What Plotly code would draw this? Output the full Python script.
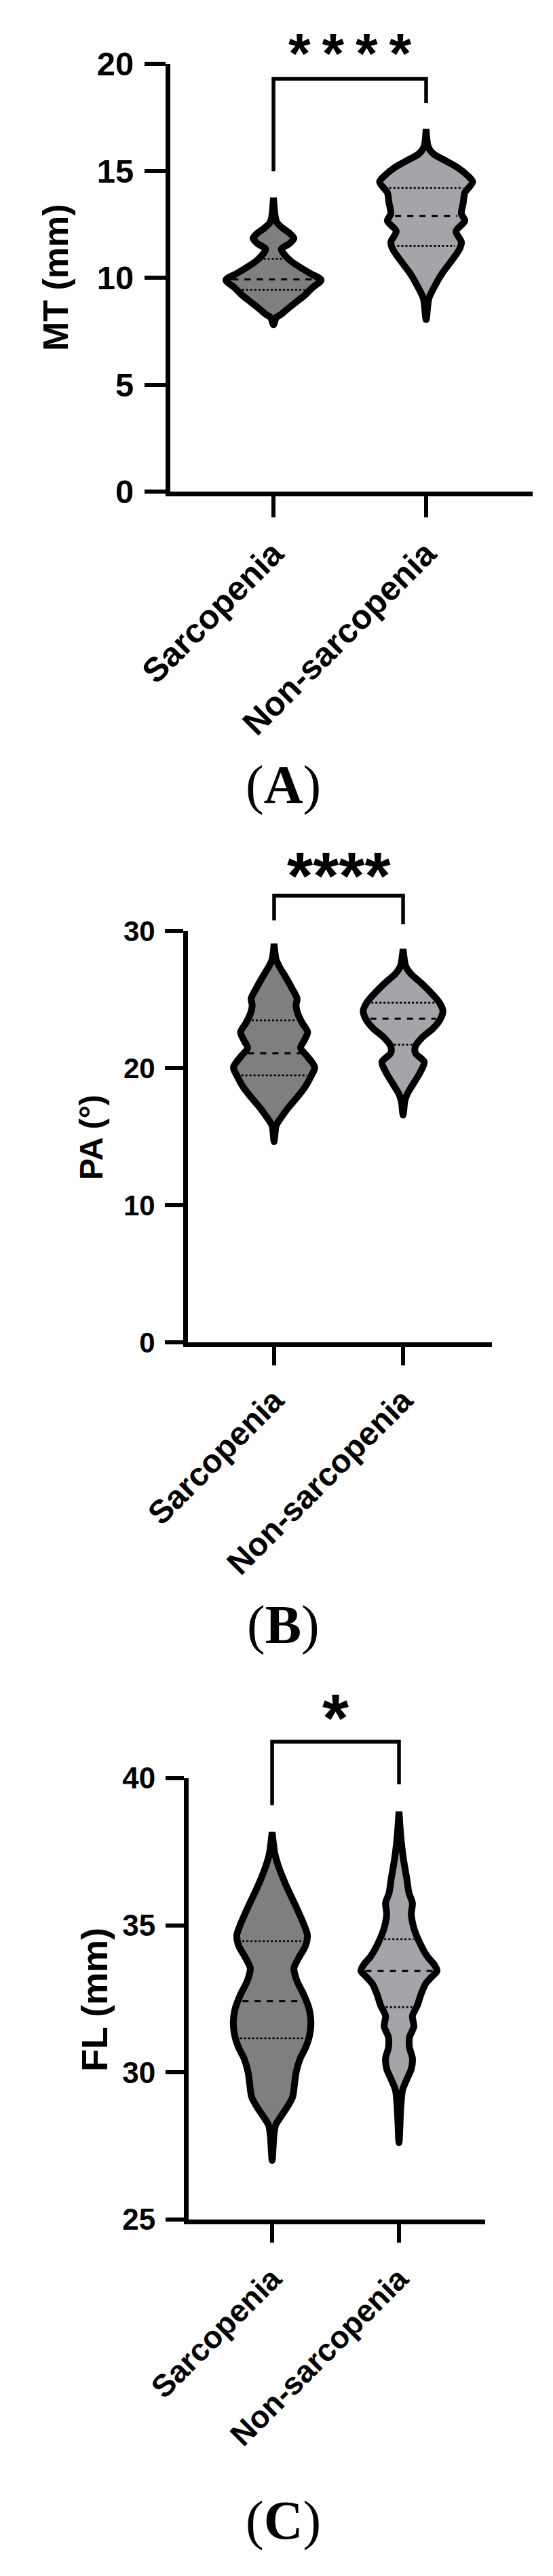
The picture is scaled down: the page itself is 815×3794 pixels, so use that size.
import numpy as np
import plotly.graph_objects as go

W, H = 815, 3794
categories = ["Sarcopenia", "Non-sarcopenia"]

# ---------------- Panel A : MT (mm) ----------------
mt_sarc_y = [7.80, 8.13, 8.29, 8.54, 8.87, 9.20, 9.53, 9.89, 10.19, 10.44, 10.77, 11.10,
             11.34, 11.59, 11.84, 12.09, 12.33, 12.58, 12.83, 13.74]
mt_sarc_hw = [0, 0.018, 0.051, 0.092, 0.150, 0.208, 0.254, 0.312, 0.243, 0.185, 0.115, 0.069,
              0.051, 0.104, 0.134, 0.104, 0.058, 0.023, 0.012, 0]
mt_sarc_q = [9.43, 9.92, 10.88]          # Q1, median, Q3

mt_non_y = [8.04, 9.03, 9.53, 10.19, 10.85, 11.34, 11.67, 12.17, 12.66, 12.99, 13.49, 13.98,
            14.48, 14.81, 15.14, 15.47, 15.80, 16.13, 16.95]
mt_non_hw = [0, 0.018, 0.051, 0.104, 0.173, 0.219, 0.231, 0.196, 0.254, 0.231, 0.243, 0.254,
             0.305, 0.266, 0.208, 0.127, 0.046, 0.014, 0]
mt_non_q = [11.48, 12.88, 14.20]

# ---------------- Panel B : PA (°) ----------------
pa_sarc_y = [14.64, 15.80, 16.31, 17.09, 17.86, 18.63, 19.41, 20.05, 20.82, 21.47, 21.98, 22.62,
             23.27, 23.91, 24.56, 25.07, 25.84, 26.75, 27.39, 27.90, 29.06]
pa_sarc_hw = [0, 0.016, 0.049, 0.109, 0.178, 0.241, 0.287, 0.315, 0.260, 0.205, 0.232, 0.260,
              0.219, 0.186, 0.170, 0.178, 0.137, 0.082, 0.041, 0.016, 0]
pa_sarc_q = [19.46, 21.08, 23.47]

pa_non_y = [16.57, 17.60, 18.12, 18.89, 19.66, 20.44, 21.08, 21.59, 22.24, 22.88, 23.53, 24.17,
            24.81, 25.46, 26.23, 26.87, 27.39, 28.68]
pa_non_hw = [0, 0.014, 0.033, 0.082, 0.131, 0.164, 0.096, 0.096, 0.150, 0.232, 0.287, 0.309,
             0.279, 0.219, 0.137, 0.060, 0.022, 0]
pa_non_q = [21.70, 23.60, 24.76]

# ---------------- Panel C : FL (mm) ----------------
fl_sarc_y = [27.01, 27.85, 28.21, 28.45, 28.81, 29.16, 29.58, 30.00, 30.48, 30.84, 31.20, 31.68,
             32.16, 32.64, 33.12, 33.54, 33.95, 34.31, 34.67, 35.03, 35.63, 36.35, 37.01, 37.43, 38.17]
fl_sarc_hw = [0, 0.014, 0.028, 0.061, 0.117, 0.161, 0.176, 0.189, 0.222, 0.264, 0.292, 0.306,
              0.292, 0.250, 0.195, 0.172, 0.217, 0.264, 0.278, 0.250, 0.189, 0.111, 0.050, 0.022, 0]
fl_sarc_q = [31.16, 32.42, 34.46]

fl_non_y = [27.61, 28.81, 29.40, 29.76, 30.12, 30.48, 30.84, 31.20, 31.56, 31.92, 32.28, 32.64,
            33.00, 33.24, 33.45, 33.66, 33.95, 34.43, 34.91, 35.39, 35.75, 36.11, 36.59, 37.31,
            38.03, 38.87]
fl_non_hw = [0, 0.014, 0.028, 0.061, 0.097, 0.106, 0.083, 0.083, 0.117, 0.106, 0.145, 0.172,
             0.208, 0.256, 0.300, 0.278, 0.222, 0.161, 0.117, 0.097, 0.106, 0.078, 0.061, 0.033,
             0.014, 0]
fl_non_q = [32.22, 33.45, 34.53]

y_titles = ["MT (mm)", "PA (°)", "FL (mm)"]
panel_labels = ["A", "B", "C"]
y_ticks = [[0, 5, 10, 15, 20], [0, 10, 20, 30], [25, 30, 35, 40]]
# bracket: (top, left leg end, right leg end) in data units
brackets = [(19.30, 14.98, 18.16), (32.56, 30.77, 30.48), (41.24, 39.08, 39.79)]
star_y = [20.8, 34.59, 42.33]

fill_colors = ["#7F7F7F", "#A5A5A9"]

panels = [
    dict(violins=[(mt_sarc_y, mt_sarc_hw, mt_sarc_q), (mt_non_y, mt_non_hw, mt_non_q)],
         xdom=[243 / W, 777 / W], xr=[-0.676, 1.698],
         ydom=[1 - 716 / H, 1 - 86 / H], yr=[0, 20],
         ytick_size=49, xtick_size=50, ticklen=31, xstand=4, title_size=52, title_x=74, title_y=401,
         star_size=84, star_text="*\u2009*\u2009*\u2009*", label_y=1148),
    dict(violins=[(pa_sarc_y, pa_sarc_hw, pa_sarc_q), (pa_non_y, pa_non_hw, pa_non_q)],
         xdom=[269 / W, 717 / W], xr=[-0.668, 1.689],
         ydom=[1 - 1969 / H, 1 - 1363 / H], yr=[0, 30],
         ytick_size=42, xtick_size=48, ticklen=27, xstand=4, title_size=48, title_x=127, title_y=1667,
         star_size=98, star_text="****", label_y=2385),
    dict(violins=[(fl_sarc_y, fl_sarc_hw, fl_sarc_q), (fl_non_y, fl_non_hw, fl_non_q)],
         xdom=[270 / W, 707 / W], xr=[-0.658, 1.679],
         ydom=[1 - 3261 / H, 1 - 2611 / H], yr=[25, 40],
         ytick_size=44, xtick_size=46, ticklen=27, xstand=8, title_size=54, title_x=131, title_y=2937,
         star_size=100, star_text="*", label_y=3704),
]

SANS = "Liberation Sans, Arial, sans-serif"
SERIF = "Liberation Serif, Times New Roman, serif"

fig = go.Figure()
layout = dict(width=W, height=H, margin=dict(l=0, r=0, t=0, b=0, autoexpand=False),
              paper_bgcolor="white", plot_bgcolor="white", showlegend=False)
shapes, annotations = [], []


def to_px(p, xv):
    return p["xdom"][0] + (xv - p["xr"][0]) / (p["xr"][1] - p["xr"][0]) * (p["xdom"][1] - p["xdom"][0])


def to_py(p, yv):
    return p["ydom"][0] + (yv - p["yr"][0]) / (p["yr"][1] - p["yr"][0]) * (p["ydom"][1] - p["ydom"][0])


for i, p in enumerate(panels):
    n = "" if i == 0 else str(i + 1)
    xa, ya = "x" + n, "y" + n
    for c, (ys, hw, q) in enumerate(p["violins"]):
        xs = [c + h for h in hw] + [c - h for h in hw[::-1]]
        yy = list(ys) + list(ys[::-1])
        fig.add_trace(go.Scatter(x=xs, y=yy, mode="lines", fill="toself",
                                 fillcolor=fill_colors[c],
                                 line=dict(color="black", width=10, shape="spline", smoothing=0.8),
                                 xaxis=xa, yaxis=ya, hoverinfo="skip"))
        for k, qv in enumerate(q):
            hq = max(float(np.interp(qv, ys, hw)) - 0.035, 0.01)
            fig.add_trace(go.Scatter(x=[c - hq, c + hq], y=[qv, qv], mode="lines",
                                     line=dict(color="black", width=3 if k == 1 else 2.6,
                                               dash="dash" if k == 1 else "dot"),
                                     xaxis=xa, yaxis=ya, hoverinfo="skip"))
    layout["xaxis" + n] = dict(domain=p["xdom"], range=p["xr"], anchor=ya, automargin=False,
                               tickvals=[0, 1], ticktext=categories, tickangle=-45,
                               ticks="outside", ticklen=p["ticklen"], tickwidth=6, tickcolor="black",
                               showline=True, linewidth=7, linecolor="black",
                               showgrid=False, zeroline=False, ticklabelstandoff=p["xstand"],
                               tickfont=dict(family=SANS, size=p["xtick_size"], color="black",
                                             weight="bold"))
    layout["yaxis" + n] = dict(domain=p["ydom"], range=p["yr"], anchor=xa, automargin=False,
                               tickvals=y_ticks[i], ticks="outside", ticklen=p["ticklen"],
                               tickwidth=6, tickcolor="black",
                               showline=True, linewidth=7, linecolor="black",
                               showgrid=False, zeroline=False, ticklabelstandoff=6,
                               tickfont=dict(family=SANS, size=p["ytick_size"], color="black",
                                             weight="bold"))
    # significance bracket
    top, lft, rgt = brackets[i]
    x0, x1 = to_px(p, 0), to_px(p, 1)
    shapes.append(dict(type="path", xref="paper", yref="paper",
                       path=f"M {x0},{to_py(p, lft)} L {x0},{to_py(p, top)} "
                            f"L {x1},{to_py(p, top)} L {x1},{to_py(p, rgt)}",
                       line=dict(color="black", width=5.5)))
    annotations.append(dict(x=(x0 + x1) / 2, y=to_py(p, star_y[i]), xref="paper", yref="paper",
                            text=p["star_text"], showarrow=False, xanchor="center", yanchor="middle",
                            yshift=-0.12 * p["star_size"],
                            font=dict(family=SANS, size=p["star_size"], color="black", weight="bold")))
    # y-axis title
    annotations.append(dict(x=p["title_x"] / W, y=1 - p["title_y"] / H, xref="paper", yref="paper",
                            text=y_titles[i], textangle=-90, showarrow=False,
                            xanchor="center", yanchor="middle",
                            font=dict(family=SANS, size=p["title_size"], color="black", weight="bold")))
    # panel label
    annotations.append(dict(x=409 / W, y=1 - p["label_y"] / H, xref="paper", yref="paper",
                            text=f"(<b>{panel_labels[i]}</b>)", showarrow=False,
                            xanchor="center", yanchor="middle",
                            font=dict(family=SERIF, size=80, color="black")))

layout["shapes"] = shapes
layout["annotations"] = annotations
fig.update_layout(**layout)
fig.write_html("out.html")
